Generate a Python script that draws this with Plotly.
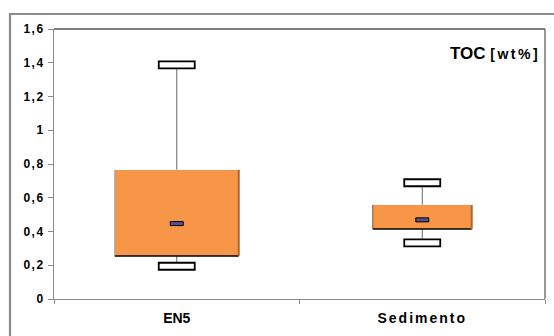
import plotly.graph_objects as go

categories = ["EN5", "Sedimento"]
minimum = [0.194, 0.333]
q1 = [0.255, 0.415]
median = [0.447, 0.469]
q3 = [0.766, 0.558]
maximum = [1.388, 0.689]
y_ticks = [0, 0.2, 0.4, 0.6, 0.8, 1.0, 1.2, 1.4, 1.6]

box_widths = [0.505, 0.403]
ORANGE = "#F79646"

fig = go.Figure()

# boxes
fig.add_trace(go.Bar(
    x=categories,
    y=[b - a for a, b in zip(q1, q3)],
    base=q1,
    width=box_widths,
    marker=dict(color=ORANGE, line=dict(width=0)),
    showlegend=False,
    hoverinfo="skip",
))

# whiskers
wx, wy = [], []
for c, lo, a, b, hi in zip(categories, minimum, q1, q3, maximum):
    wx += [c, c, None, c, c, None]
    wy += [b, hi, None, lo, a, None]
fig.add_trace(go.Scatter(x=wx, y=wy, mode="lines",
                         line=dict(color="#6a6a6a", width=1),
                         showlegend=False, hoverinfo="skip"))

shapes = []
for i, c in enumerate(categories):
    w = box_widths[i]
    # box bottom edge and right shadow
    shapes.append(dict(type="line", xref="x", yref="y",
                       x0=i - w / 2, x1=i + w / 2, y0=q1[i], y1=q1[i],
                       line=dict(color="black", width=1.5)))
    shapes.append(dict(type="line", xref="x", yref="y",
                       x0=i + w / 2, x1=i + w / 2, y0=q1[i], y1=q3[i],
                       line=dict(color="#a8683a", width=2)))
    shapes.append(dict(type="line", xref="x", yref="y",
                       x0=i - w / 2, x1=i - w / 2, y0=q1[i], y1=q3[i],
                       line=dict(color="#7a5030" if i else "#9a9a9a", width=1)))
    # whisker caps (hollow rectangles)
    for v in (minimum[i], maximum[i]):
        shapes.append(dict(type="rect", xref="x", yref="y",
                           xsizemode="pixel", ysizemode="pixel",
                           xanchor=i, yanchor=v,
                           x0=-18, x1=18, y0=-3.5, y1=3.5,
                           fillcolor="white",
                           line=dict(color="black", width=1.8)))
    # median marker
    shapes.append(dict(type="rect", xref="x", yref="y",
                       xsizemode="pixel", ysizemode="pixel",
                       xanchor=i, yanchor=median[i],
                       x0=-6.5, x1=6.5, y0=-2, y1=2,
                       fillcolor="#5b4e8e",
                       line=dict(color="black", width=1)))

# plot frame: top black, right dark gray
shapes.append(dict(type="line", xref="paper", yref="paper",
                   x0=0, x1=1, y0=1, y1=1, line=dict(color="black", width=1.2)))
shapes.append(dict(type="line", xref="paper", yref="paper",
                   x0=1, x1=1, y0=0, y1=1, line=dict(color="#555555", width=1.2)))
# outer chart frame (cut off at right and bottom)
shapes.append(dict(type="rect", xref="paper", yref="paper",
                   x0=-0.0896, x1=1.05, y0=-0.3, y1=1.0556,
                   line=dict(color="#8c8c8c", width=2.2), layer="below"))

fig.update_layout(
    width=554, height=336,
    margin=dict(l=54, r=9, t=29, b=37),
    paper_bgcolor="white", plot_bgcolor="white",
    separators=",.",
    font=dict(family="Liberation Sans, Arial, sans-serif", color="black"),
    shapes=shapes,
    bargap=0,
    annotations=[dict(
        xref="paper", yref="paper", x=0.9939, y=0.911,
        xanchor="right", yanchor="middle", showarrow=False,
        text="<b>TOC</b> <b><span style='font-size:14px;letter-spacing:2.5px'>[wt%]</span></b>",
        font=dict(size=17, color="black"),
    )],
)

y_text = ["<span style='letter-spacing:1.5px'>%s</span>" % ("%g" % v).replace(".", ",")
          for v in y_ticks]
fig.update_yaxes(
    range=[0, 1.6], tickvals=y_ticks, ticktext=y_text,
    showgrid=False, zeroline=False,
    showline=True, linecolor="#8a8a8a", linewidth=1,
    ticks="outside", ticklen=5, tickcolor="#8a8a8a",
    tickfont=dict(size=12, weight="bold"), ticklabelstandoff=1,
)
fig.update_xaxes(
    range=[-0.5, 1.5], showgrid=False, zeroline=False,
    showline=True, linecolor="#8a8a8a", linewidth=1,
    ticks="outside", ticklen=4, tickcolor="#8a8a8a", tickson="boundaries",
    tickvals=categories,
    ticktext=["<span style='letter-spacing:%spx'>%s</span>" % (s, c)
              for s, c in zip([0, 2], categories)],
    tickfont=dict(size=14, weight="bold"), ticklabelstandoff=6,
)

fig.write_html(
    "out.html",
    config={"displayModeBar": False},
    post_script="document.body.style.margin='0';document.body.style.padding='0';"
                "document.body.style.overflow='hidden';",
)
